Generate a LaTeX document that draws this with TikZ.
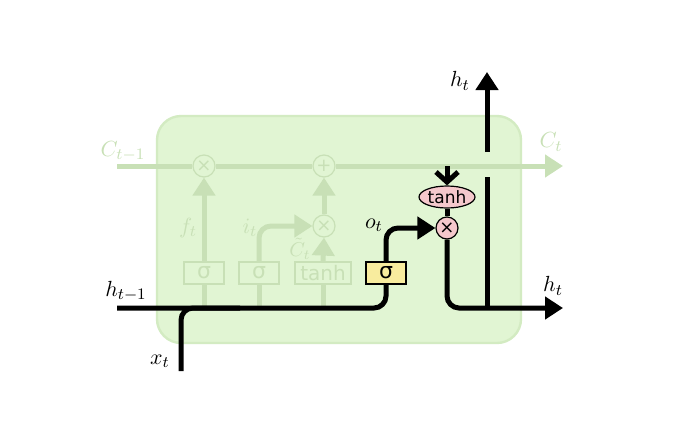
\documentclass[tikz,border=0pt]{standalone}
\usepackage{fontspec}
\newfontfamily\gatefont{DejaVu Sans}
\usetikzlibrary{arrows.meta, shapes.geometric}

\definecolor{cellfill}{HTML}{E1F5D3}
\definecolor{celledge}{HTML}{D3EBC2}
\definecolor{faded}{HTML}{C8E0B6}
\definecolor{opfill}{HTML}{F5C8CC}
\definecolor{gatefill}{HTML}{F8EC9E}

\tikzset{
  wire/.style={line width=2.5pt, rounded corners=6pt},
  fadedwire/.style={wire, draw=faded},
  bigtip/.style={-{Triangle[length=9pt,width=11pt]}},
  gate/.style={draw, fill=gatefill, line width=0.6pt, minimum width=20pt,
    minimum height=11pt, inner sep=0.5pt, font=\gatefont\fontsize{11}{11}\selectfont},
  fadedgate/.style={gate, draw=faded, fill=cellfill, text=faded},
  op/.style={circle, draw, fill=opfill, line width=0.6pt, minimum size=11pt,
    inner sep=0pt, font=\gatefont\fontsize{9}{10}\selectfont},
  fadedop/.style={op, draw=faded, fill=cellfill, text=faded},
  lbl/.style={font=\fontsize{10.95}{13}\selectfont},
  fadedlbl/.style={lbl, text=faded}
}

\begin{document}
\begin{tikzpicture}[x=0.5pt, y=-0.5pt]
  \useasboundingbox (0,0) rectangle (700,445);

  % cell body
  \draw[fill=cellfill, draw=celledge, line width=1.2pt, rounded corners=12pt]
    (157,116) rectangle (521,343);

  % faded part of the cell
  \node[fadedop] (fx) at (204,166) {×};
  \node[fadedop] (plus) at (324,166) {+};
  \node[fadedop] (ix) at (324,226) {×};
  \node[fadedgate] (fgate) at (204,273) {σ};
  \node[fadedgate] (igate) at (259,273) {σ};
  \node[fadedgate, minimum width=28pt, font=\gatefont\fontsize{10}{11}\selectfont]
    (cgate) at (323,273) {tanh};

  \coordinate (cin) at (117,166);
  \coordinate (cout) at (563,166);
  \coordinate (fdown) at (204,308);
  \coordinate (idown) at (259,308);
  \coordinate (cdown) at (323,308);

  \draw[fadedwire] (cin) -- (fx.west);
  \draw[fadedwire] (fx.east) -- (plus.west);
  \draw[fadedwire, bigtip] (plus.east) -- (cout);
  \draw[fadedwire, bigtip] (fgate.north) -- (fx.south);
  \draw[fadedwire, bigtip] (igate.north) |- (ix.west);
  \draw[fadedwire, bigtip] (cgate.north) -- (ix.south);
  \draw[fadedwire, bigtip] (ix.north) -- (plus.south);
  \draw[fadedwire] (fgate.south) -- (fdown);
  \draw[fadedwire] (igate.south) -- (idown);
  \draw[fadedwire] (cgate.south) -- (cdown);

  \node[fadedlbl] at (123,151) {$C_{t-1}$};
  \node[fadedlbl] at (551,142) {$C_t$};
  \node[fadedlbl] at (188,228) {$f_t$};
  \node[fadedlbl] at (250,228) {$i_t$};
  \node[fadedlbl, anchor=south east, inner sep=0pt, font=\fontsize{10}{12}\selectfont]
    at (311,260) {$\tilde{C}_t$};

  % output gate
  \node[gate] (ogate) at (386,273) {σ};
  \node[op, ellipse, minimum width=28pt, font=\gatefont\fontsize{8.5}{10}\selectfont]
    (tanhop) at (447,197) {tanh};
  \node[op] (ox) at (447,228) {×};

  \coordinate (hin) at (117,308);
  \coordinate (xin) at (181,371);
  \coordinate (xjoin) at (240,308);
  \coordinate (ctap) at (447,166);
  \coordinate (hout) at (563,308);
  \coordinate (hsplit) at (487,308);
  \coordinate (gaplow) at (487,177);
  \coordinate (gaphigh) at (487,152);
  \coordinate (htop) at (487,72);

  \draw[wire] (hin) -| (ogate.south);
  \draw[wire] (xin) |- (xjoin);
  \draw[wire, bigtip] (ogate.north) |- (ox.west);
  \draw[wire, -{Straight Barb[length=5pt,width=11pt]}] (ctap) -- (tanhop.north);
  \draw[wire] (tanhop.south) -- (ox.north);
  \draw[wire, bigtip] (ox.south) |- (hout);
  \draw[wire] (hsplit) -- (gaplow);
  \draw[wire, bigtip] (gaphigh) -- (htop);

  \node[lbl] at (126,291) {$h_{t-1}$};
  \node[lbl] at (160,361) {$x_t$};
  \node[lbl] at (374,225) {$o_t$};
  \node[lbl] at (460,81) {$h_t$};
  \node[lbl] at (553,286) {$h_t$};
\end{tikzpicture}
\end{document}
